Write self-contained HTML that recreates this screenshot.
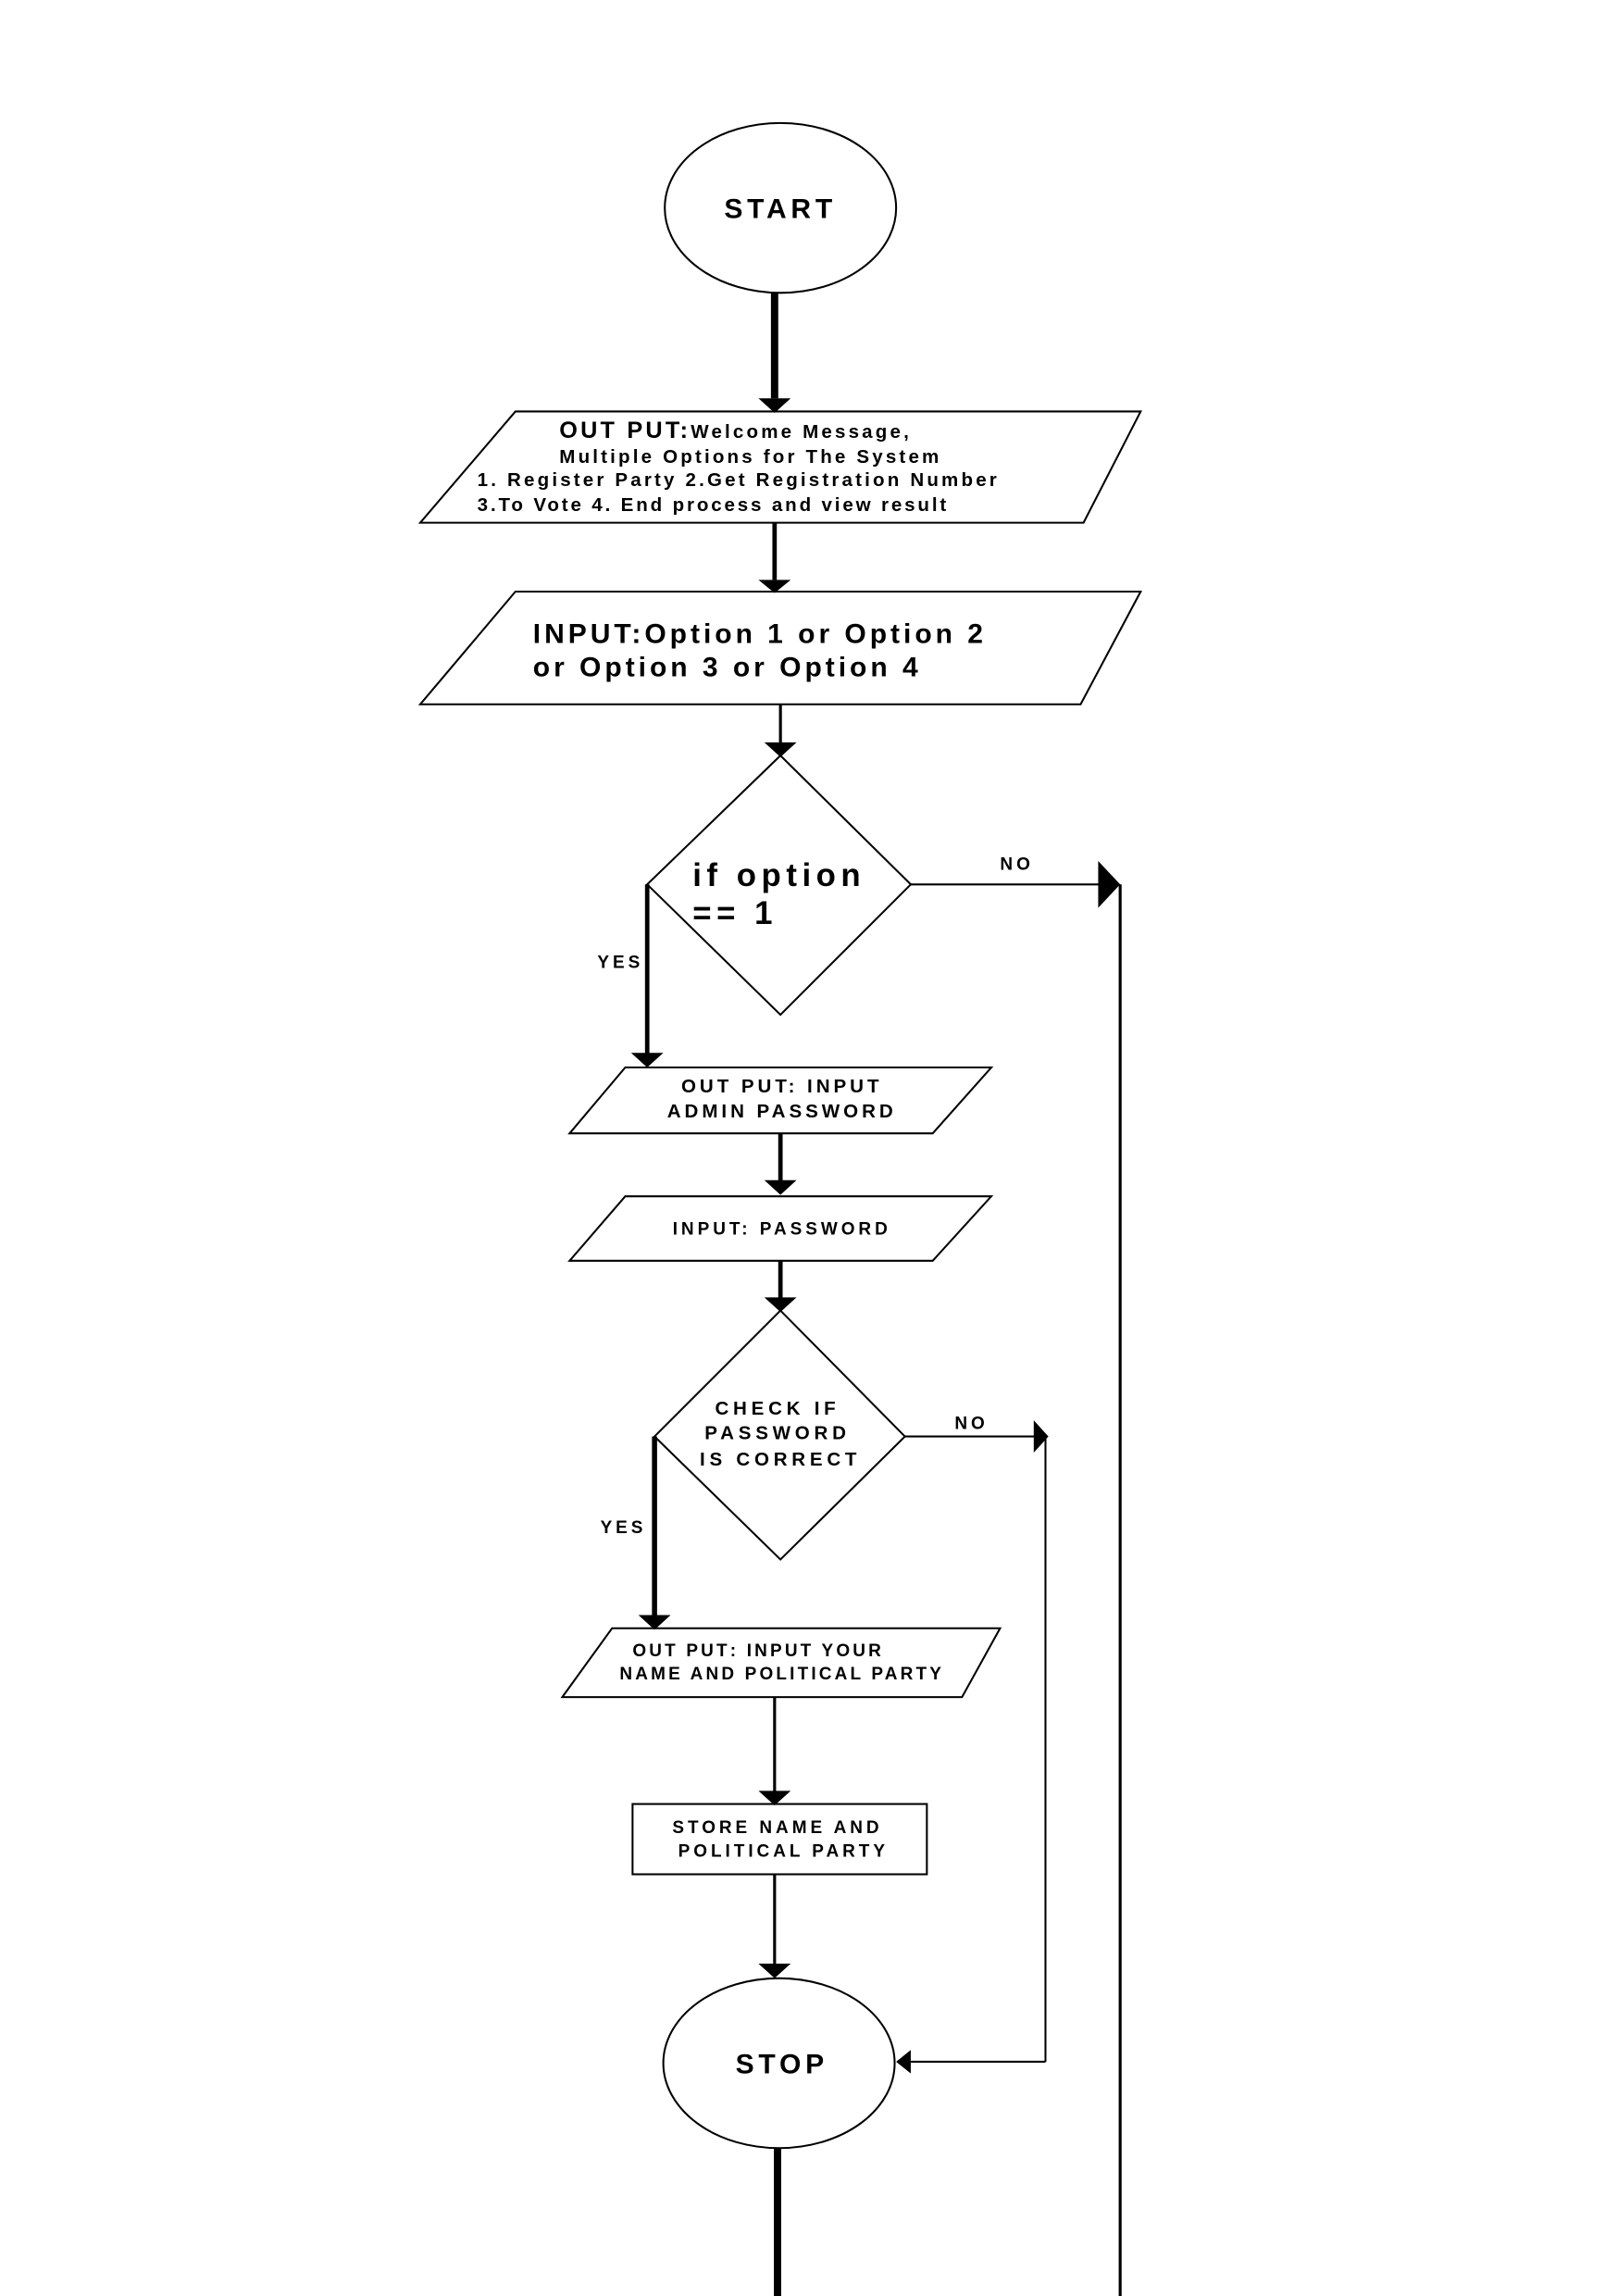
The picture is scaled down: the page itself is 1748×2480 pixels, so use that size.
<!DOCTYPE html>
<html><head><meta charset="utf-8"><style>
html,body{margin:0;padding:0;background:#fff}
svg{display:block}
text{font-family:"Liberation Sans",Arial,sans-serif;font-weight:bold;fill:#000}
</style></head><body>
<svg width="1748" height="2480" viewBox="0 0 1105 1568" preserveAspectRatio="none" xmlns="http://www.w3.org/2000/svg">
<g fill="none" stroke="#000" stroke-width="1.3">
<ellipse cx="533" cy="142" rx="79" ry="58"/>
<polygon points="352,281 779,281 740,357 287,357"/>
<polygon points="352,404 779,404 738,481 287,481"/>
<polygon points="533,516 622,604 533,693 442,604"/>
<polygon points="427,729 677,729 637,774 389,774"/>
<polygon points="427,817 677,817 637,861 389,861"/>
<polygon points="533,895 618,981 533,1065 447,981"/>
<polygon points="418,1112 683,1112 657,1159 384,1159"/>
<rect x="432" y="1232" width="201" height="48"/>
<ellipse cx="532" cy="1409" rx="79" ry="58"/>
<line x1="622" y1="604" x2="752" y2="604"/>
<line x1="618" y1="981" x2="708" y2="981"/>
<line x1="714" y1="981" x2="714" y2="1408"/>
<line x1="714" y1="1408" x2="620" y2="1408"/>
</g>
<g stroke="#000" fill="none">
<line x1="529" y1="200" x2="529" y2="272" stroke-width="5"/>
<line x1="529" y1="357" x2="529" y2="396" stroke-width="3"/>
<line x1="533" y1="481" x2="533" y2="508" stroke-width="2"/>
<line x1="442" y1="604" x2="442" y2="720" stroke-width="3"/>
<line x1="533" y1="774" x2="533" y2="807" stroke-width="3"/>
<line x1="533" y1="861" x2="533" y2="887" stroke-width="3"/>
<line x1="447" y1="981" x2="447" y2="1104" stroke-width="3.5"/>
<line x1="529" y1="1159" x2="529" y2="1224" stroke-width="2"/>
<line x1="529" y1="1280" x2="529" y2="1342" stroke-width="2"/>
<line x1="531" y1="1467" x2="531" y2="1568" stroke-width="5"/>
<line x1="765" y1="604" x2="765" y2="1568" stroke-width="2"/>
</g>
<g fill="#000">
<polygon points="518,272 540,272 529,282"/>
<polygon points="518,396 540,396 529,405"/>
<polygon points="522,507 544,507 533,517"/>
<polygon points="431,719 453,719 442,729"/>
<polygon points="522,806 544,806 533,816"/>
<polygon points="522,886 544,886 533,896"/>
<polygon points="436,1103 458,1103 447,1113"/>
<polygon points="518,1223 540,1223 529,1233"/>
<polygon points="518,1341 540,1341 529,1351"/>
<polygon points="750,588 765,604 750,620"/>
<polygon points="706,970 716,981 706,992"/>
<polygon points="622,1400 612,1408 622,1416"/>
</g>
<text x="533" y="149" font-size="19" letter-spacing="3" text-anchor="middle">START</text>
<text x="382" y="299" font-size="16" letter-spacing="2">OUT PUT:<tspan font-size="13" letter-spacing="2">Welcome Message,</tspan></text>
<text x="382" y="316" font-size="13" letter-spacing="2">Multiple Options for The System</text>
<text x="326" y="332" font-size="13" letter-spacing="2">1. Register Party 2.Get Registration Number</text>
<text x="326" y="349" font-size="13" letter-spacing="1.8">3.To Vote 4. End process and view result</text>
<text x="364" y="439" font-size="19" letter-spacing="2.5">INPUT:<tspan font-weight="bold">Option 1 or Option 2</tspan></text>
<text x="364" y="462" font-size="19" letter-spacing="2.5">or Option 3 or Option 4</text>
<text x="473" y="605" font-size="22" letter-spacing="3.5">if option</text>
<text x="473" y="631" font-size="22" letter-spacing="3.5">== 1</text>
<text x="683" y="594" font-size="12" letter-spacing="2.5">NO</text>
<text x="408" y="661" font-size="12" letter-spacing="2.5">YES</text>
<text x="534" y="746" font-size="13" letter-spacing="2.5" text-anchor="middle">OUT PUT: INPUT</text>
<text x="534" y="763" font-size="13" letter-spacing="2.5" text-anchor="middle">ADMIN PASSWORD</text>
<text x="534" y="843" font-size="12" letter-spacing="2.5" text-anchor="middle">INPUT: PASSWORD</text>
<text x="531" y="966" font-size="13" letter-spacing="3" text-anchor="middle">CHECK IF</text>
<text x="531" y="983" font-size="13" letter-spacing="3" text-anchor="middle">PASSWORD</text>
<text x="533" y="1001" font-size="13" letter-spacing="3" text-anchor="middle">IS CORRECT</text>
<text x="652" y="976" font-size="12" letter-spacing="2.5">NO</text>
<text x="410" y="1047" font-size="12" letter-spacing="2.5">YES</text>
<text x="532" y="1131" font-size="12" letter-spacing="2"><tspan x="432">OUT PUT</tspan>: INPUT YOUR</text>
<text x="534" y="1147" font-size="12" letter-spacing="2" text-anchor="middle">NAME AND POLITICAL PARTY</text>
<text x="531" y="1252" font-size="12" letter-spacing="2.5" text-anchor="middle">STORE NAME AND</text>
<text x="535" y="1268" font-size="12" letter-spacing="2.5" text-anchor="middle">POLITICAL PARTY</text>
<text x="534" y="1416" font-size="19" letter-spacing="3" text-anchor="middle">STOP</text>
</svg>
</body></html>
